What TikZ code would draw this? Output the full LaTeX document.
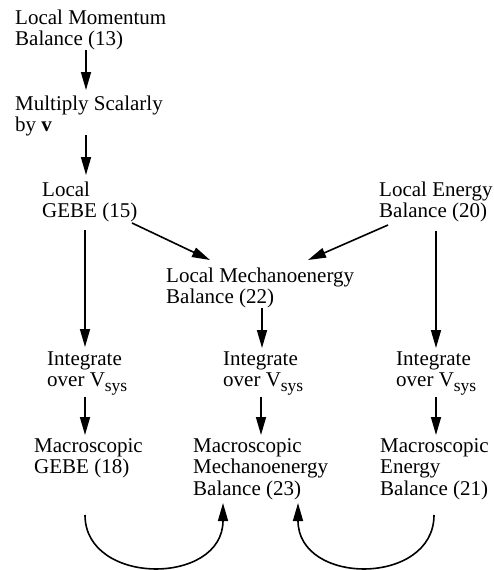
\documentclass[tikz,border=0pt]{standalone}
\usepackage{fontspec}
\setmainfont{Liberation Serif}
\usetikzlibrary{arrows.meta}
\newcommand{\vsys}{V\raisebox{-5pt}{\fontsize{17.5}{17.5}\selectfont sys}}
\begin{document}
\begin{tikzpicture}[x=1pt,y=-1pt,
  lbl/.style={anchor=base west,inner sep=0pt,align=left,font=\fontsize{21}{21.5}\selectfont},
  arr/.style={line width=1.6pt,-{Triangle[length=18pt,width=10pt]}}]
\useasboundingbox (0,0) rectangle (493,570);
% nodes are placed by the baseline of their last line
\node[lbl] (lmb) at (15,45.5) {Local Momentum\\Balance (13)};
\node[lbl] (msv) at (15,131.5) {Multiply Scalarly\\by \textbf{v}};
\node[lbl] (lgebe) at (42,217.5) {Local\\GEBE (15)};
\node[lbl] (leb) at (379,217.5) {Local Energy\\Balance (20)};
\node[lbl] (lmeb) at (166,303.5) {Local Mechanoenergy\\Balance (22)};
\node[lbl] (int1) at (47,386.5) {Integrate\\over \vsys};
\node[lbl] (int2) at (223,386.5) {Integrate\\over \vsys};
\node[lbl] (int3) at (396,386.5) {Integrate\\over \vsys};
\node[lbl] (mac1) at (34,473.5) {Macroscopic\\GEBE (18)};
\node[lbl] (mac2) at (193,495) {Macroscopic\\Mechanoenergy\\Balance (23)};
\node[lbl] (mac3) at (380,495) {Macroscopic\\Energy\\Balance (21)};

\draw[arr] ([shift={(71,4.5)}]lmb.base west) -- ([shift={(71,-41.5)}]msv.base west);
\draw[arr] ([shift={(71,3.5)}]msv.base west) -- ([shift={(44,-42.5)}]lgebe.base west);
\draw[arr] ([shift={(43,12.5)}]lgebe.base west) -- ([shift={(38,-39.5)}]int1.base west);
\draw[arr] ([shift={(90,5.5)}]lgebe.base west) -- ([shift={(44,-43.5)}]lmeb.base west);
\draw[arr] ([shift={(9,7.5)}]leb.base west) -- ([shift={(142,-43.5)}]lmeb.base west);
\draw[arr] ([shift={(57,13.5)}]leb.base west) -- ([shift={(40,-38.5)}]int3.base west);
\draw[arr] ([shift={(96,4.5)}]lmeb.base west) -- ([shift={(39,-38.5)}]int2.base west);
\draw[arr] ([shift={(38,10)}]int1.base west) -- ([shift={(51,-38.5)}]mac1.base west);
\draw[arr] ([shift={(38,10)}]int2.base west) -- ([shift={(68,-60)}]mac2.base west);
\draw[arr] ([shift={(40,10)}]int3.base west) -- ([shift={(56,-60)}]mac3.base west);
\draw[arr] ([shift={(51,41.5)}]mac1.base west) .. controls +(0,71) and +(0,83) .. ([shift={(30,8)}]mac2.base west);
\draw[arr] ([shift={(54,20)}]mac3.base west) .. controls +(0,71) and +(0,83) .. ([shift={(105,8)}]mac2.base west);
\end{tikzpicture}
\end{document}
